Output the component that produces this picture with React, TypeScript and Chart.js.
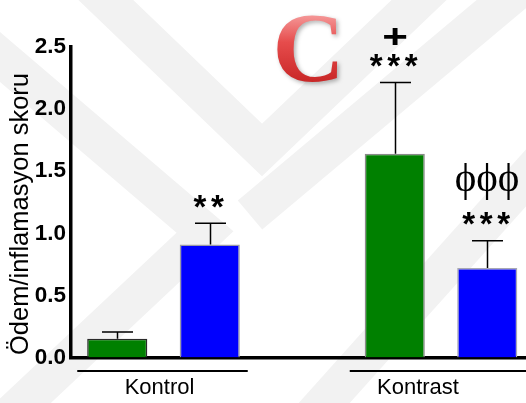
import React, { useEffect, useRef } from 'react';
import { Chart, registerables } from 'chart.js';

Chart.register(...registerables);

// Two treatment groups, each with a green and a blue bar; the middle slot is an empty spacer.
const groups = ['Kontrol', 'Kontrast'];
const slots = ['Kontrol', 'Kontrol', '', 'Kontrast', 'Kontrast'];
const means: (number | null)[] = [0.15, 0.91, null, 1.64, 0.72];
const sem: (number | null)[] = [0.055, 0.17, null, 0.575, 0.22];
const stars = ['', '**', '', '***', '***'];
const marks = ['', '', '', '+', 'ϕϕϕ'];
const yTicks = [0, 0.5, 1.0, 1.5, 2.0, 2.5];
const yTitle = 'Ödem/inflamasyon skoru';
const panelLetter = 'C';

const fills = ['#008000', '#0000ff', '#ffffff', '#008000', '#0000ff'];
const borders = ['#2a2a2a', '#9a9aa6', '#ffffff', '#8a8a8a', '#a8a8b4'];

const SANS = '"Liberation Sans", Arial, Helvetica, sans-serif';
const SERIF = '"Liberation Serif", "Times New Roman", serif';

function inkText(ctx: CanvasRenderingContext2D, text: string, cx: number, cy: number) {
  ctx.textAlign = 'left';
  ctx.textBaseline = 'alphabetic';
  const m = ctx.measureText(text);
  const x = cx - (m.actualBoundingBoxRight - m.actualBoundingBoxLeft) / 2;
  const y = cy + (m.actualBoundingBoxAscent - m.actualBoundingBoxDescent) / 2;
  ctx.fillText(text, x, y);
}

function spacedText(ctx: CanvasRenderingContext2D, text: string, cx: number, cy: number, step: number) {
  const chars = Array.from(text);
  const n = chars.length;
  chars.forEach((ch, i) => inkText(ctx, ch, cx + (i - (n - 1) / 2) * step, cy));
}

// faint diagonal bands in the background
const backdrop = {
  id: 'backdrop',
  beforeDraw(chart: any) {
    const ctx = chart.ctx as CanvasRenderingContext2D;
    ctx.save();
    ctx.strokeStyle = '#f2f2f2';
    ctx.lineWidth = 38;
    ctx.lineJoin = 'miter';
    const bands: number[][][] = [
      [[85, -20], [262, 150], [440, -20]],
      [[-20, 40], [205, 232], [5, 420]],
      [[250, 215], [530, -20]],
      [[300, 430], [560, 140]],
    ];
    bands.forEach((pts) => {
      ctx.beginPath();
      pts.forEach(([x, y], i) => (i ? ctx.lineTo(x, y) : ctx.moveTo(x, y)));
      ctx.stroke();
    });
    ctx.restore();
  },
};

const decorations = {
  id: 'decorations',
  afterDatasetsDraw(chart: any) {
    const ctx = chart.ctx as CanvasRenderingContext2D;
    const meta = chart.getDatasetMeta(0);
    const ys = chart.scales.y;
    ctx.save();

    // error bars (upper half only)
    ctx.strokeStyle = '#000';
    ctx.lineWidth = 1.5;
    means.forEach((m, i) => {
      if (m == null || sem[i] == null) return;
      const bar = meta.data[i];
      const x = Math.round(bar.x) + 0.5;
      const top = ys.getPixelForValue(m);
      const cap = ys.getPixelForValue(m + (sem[i] as number));
      ctx.beginPath();
      ctx.moveTo(x, top);
      ctx.lineTo(x, cap);
      ctx.moveTo(x - 15.5, cap);
      ctx.lineTo(x + 15.5, cap);
      ctx.stroke();

      // significance marks above the cap
      ctx.fillStyle = '#000';
      const starY = cap - 22;
      if (stars[i]) {
        ctx.font = `bold 33px ${SANS}`;
        spacedText(ctx, stars[i], bar.x - 1, starY, 17.5);
      }
      if (marks[i] === '+') {
        ctx.save();
        ctx.font = `bold 44px ${SANS}`;
        ctx.translate(bar.x, starY - 24);
        ctx.scale(1, 0.75);
        inkText(ctx, marks[i], 0, 0);
        ctx.restore();
      } else if (marks[i]) {
        ctx.font = `41px ${SERIF}`;
        spacedText(ctx, marks[i], bar.x, starY - 37, 21.5);
      }
    });
    ctx.restore();
  },
  afterDraw(chart: any) {
    const ctx = chart.ctx as CanvasRenderingContext2D;
    const meta = chart.getDatasetMeta(0);
    const area = chart.chartArea;
    ctx.save();

    // y axis title
    ctx.fillStyle = '#000';
    ctx.font = `25.5px ${SANS}`;
    ctx.save();
    ctx.translate(21, 214);
    ctx.rotate(-Math.PI / 2);
    ctx.textAlign = 'center';
    ctx.textBaseline = 'middle';
    ctx.fillText(yTitle, 0, 0);
    ctx.restore();

    // group underlines and names
    const lineY = area.bottom + 13.5;
    const labelShift = [-4, -23];
    groups.forEach((g, gi) => {
      const idx = slots.map((s, i) => (s === g ? i : -1)).filter((i) => i >= 0);
      const x0 = meta.data[idx[0]].x;
      const x1 = meta.data[idx[idx.length - 1]].x;
      ctx.strokeStyle = '#000';
      ctx.lineWidth = 2;
      ctx.beginPath();
      ctx.moveTo(x0 - 40 - (gi ? 5 : 0), lineY);
      ctx.lineTo(x1 + 38 + (gi ? 5 : 0), lineY);
      ctx.stroke();
      ctx.font = `22px ${SANS}`;
      ctx.fillStyle = '#000';
      ctx.textAlign = 'center';
      ctx.textBaseline = 'middle';
      ctx.fillText(g, (x0 + x1) / 2 + labelShift[gi], lineY + 17);
    });

    // panel letter
    ctx.font = `bold 100px ${SERIF}`;
    const grad = ctx.createLinearGradient(0, 15, 0, 83);
    grad.addColorStop(0, '#f59898');
    grad.addColorStop(0.4, '#e64c4c');
    grad.addColorStop(1, '#c82626');
    ctx.fillStyle = grad;
    ctx.shadowColor = 'rgba(0,0,0,0.3)';
    ctx.shadowBlur = 4;
    ctx.shadowOffsetX = 2;
    ctx.shadowOffsetY = 2;
    inkText(ctx, panelLetter, 307, 49);
    ctx.restore();
  },
};

export default function App() {
  const ref = useRef<HTMLCanvasElement | null>(null);

  useEffect(() => {
    if (!ref.current) return;
    const chart = new Chart(ref.current, {
      type: 'bar',
      data: {
        labels: slots,
        datasets: [
          {
            data: means,
            backgroundColor: fills,
            borderColor: borders,
            borderWidth: 1.5,
            barPercentage: 0.65,
            categoryPercentage: 1,
          },
        ],
      },
      options: {
        animation: false,
        responsive: false,
        maintainAspectRatio: false,
        layout: { padding: { left: 0, right: 2.5, top: 47, bottom: 45.5 } },
        plugins: { legend: { display: false }, tooltip: { enabled: false }, title: { display: false } },
        scales: {
          x: {
            offset: true,
            grid: { display: false, drawTicks: false },
            border: { display: true, color: '#000', width: 3.5 },
            ticks: { display: false },
            afterFit: (s: any) => {
              s.height = 0;
            },
          },
          y: {
            min: 0,
            max: 2.5,
            afterBuildTicks: (s: any) => {
              s.ticks = yTicks.map((v) => ({ value: v }));
            },
            grid: { display: false, drawTicks: false },
            border: { display: true, color: '#000', width: 3.5 },
            ticks: {
              color: '#000',
              padding: 5,
              font: { family: SANS, size: 22.5, weight: 'bold' },
              callback: (v: any) => Number(v).toFixed(1),
            },
            afterFit: (s: any) => {
              s.width = 71;
            },
          },
        },
      },
      plugins: [backdrop, decorations],
    });
    return () => chart.destroy();
  }, []);

  return (
    <div style={{ position: 'fixed', left: 0, top: 0, width: 526, height: 403, overflow: 'hidden', background: '#fff' }}>
      <canvas ref={ref} width={536} height={403} style={{ display: 'block' }} />
    </div>
  );
}
